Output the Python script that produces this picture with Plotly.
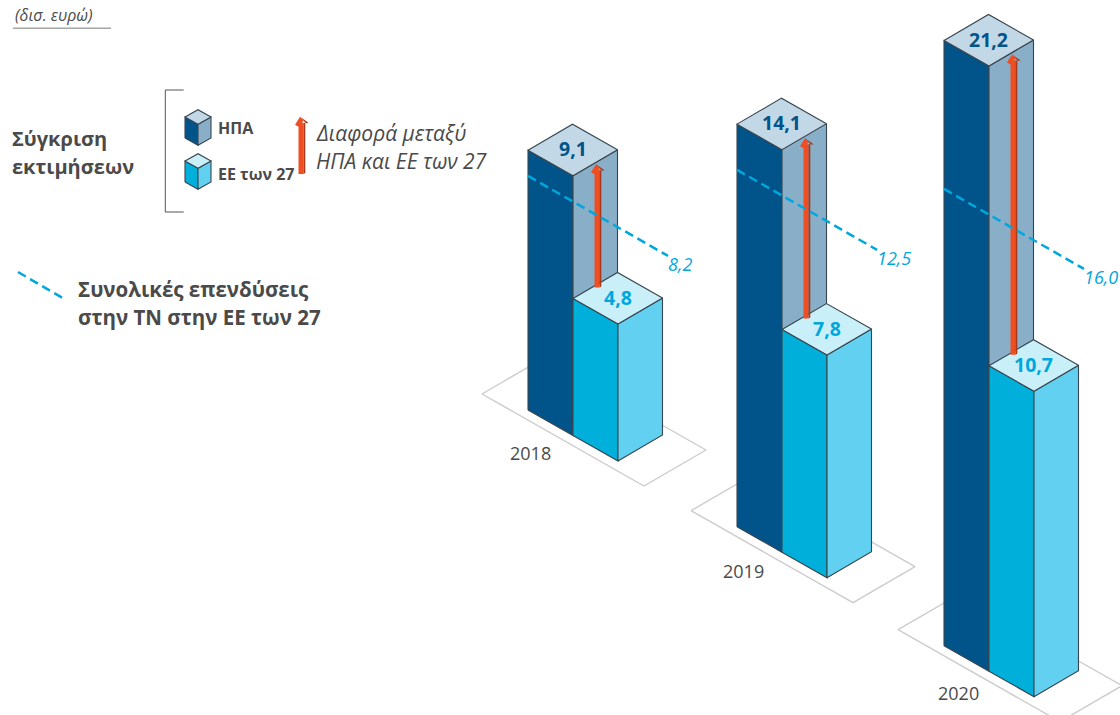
import plotly.graph_objects as go

# ---- data ----
years = ["2018", "2019", "2020"]
us_values = [9.1, 14.1, 21.2]
eu_values = [4.8, 7.8, 10.7]
total_values = [8.2, 12.5, 16.0]
us_labels = ["9,1", "14,1", "21,2"]
eu_labels = ["4,8", "7,8", "10,7"]
total_labels = ["8,2", "12,5", "16,0"]

# ---- projection geometry ----
UNIT = 28.55                 # px per bn EUR
front_x = [618, 827, 1034]   # front-bottom corner of the EU bar
front_y = [461, 577.7, 696.7]
year_xy = [(530, 453), (743, 571), (958, 693)]
W_LEFT = (-45, -25.5)
W_RIGHT = (44.5, -26)

C_US = dict(front="#00548a", side="#88aec8", top="#c3d8e6")
C_EU = dict(front="#00b0da", side="#62d0f0", top="#c9eff9")
EDGE = "#37454f"
CYAN = "#00a7dc"
NAVY = "#00548a"
GREY = "#4a4a4a"
FONT = "Open Sans"

fig = go.Figure()


def poly(xs, ys, fill, line=None, width=1.0):
    fig.add_trace(go.Scatter(
        x=list(xs) + [xs[0]], y=list(ys) + [ys[0]], mode="lines", fill="toself",
        fillcolor=fill, line=dict(color=line or fill, width=width if line else 0),
        hoverinfo="skip", showlegend=False))


def path(xs, ys, color, width=1.0, dash=None):
    fig.add_trace(go.Scatter(
        x=xs, y=ys, mode="lines", line=dict(color=color, width=width, dash=dash),
        hoverinfo="skip", showlegend=False))


def box(fx, fy, h, colors, wl=W_LEFT, wr=W_RIGHT):
    """front-bottom corner (fx, fy), height in px"""
    t = fy - h
    poly([fx + wl[0], fx, fx, fx + wl[0]], [fy + wl[1], fy, t, t + wl[1]], colors["front"], EDGE, 1.1)
    poly([fx, fx + wr[0], fx + wr[0], fx], [fy, fy + wr[1], t + wr[1], t], colors["side"], EDGE, 1.1)
    poly([fx, fx + wr[0], fx + wl[0] + wr[0], fx + wl[0]],
         [t, t + wr[1], t + wl[1] + wr[1], t + wl[1]], colors["top"], EDGE, 1.1)


def arrow(cx, y_tip, y_base):
    poly([cx - 3.5, cx + 1.5, cx + 1.5, cx - 3.5],
         [y_base, y_base, y_tip + 6, y_tip + 6], "#ee4e22")
    poly([cx + 1.5, cx + 3.3, cx + 3.3, cx + 1.5],
         [y_base, y_base - 1, y_tip + 6, y_tip + 6], "#a5391a")
    poly([cx - 2, cx - 7, cx - 3.5, cx + 1.5],
         [y_tip, y_tip + 8, y_tip + 10, y_tip + 4], "#ee4e22")
    poly([cx - 2, cx + 6.5, cx + 4, cx + 1.5],
         [y_tip, y_tip + 6, y_tip + 6.5, y_tip + 4], "#a5391a")


def text(x, y, s, size, color=GREY, bold=False, italic=False, anchor="left"):
    fig.add_annotation(
        x=x, y=y, text=s, showarrow=False, xanchor=anchor, yanchor="middle",
        xref="x", yref="y", borderpad=0,
        font=dict(family=FONT, size=size, color=color,
                  weight=700 if bold else 400, style="italic" if italic else "normal"))


# floor plates
for fx, fy in zip(front_x, front_y):
    ox, oy = fx - 136, fy - 67
    poly([ox, ox + 162, ox + 224, ox + 62], [oy, oy + 92, oy + 56, oy - 36], "#ffffff", "#cccccc", 1.4)

# bars, arrows, totals
for i in range(3):
    fx, fy = front_x[i], front_y[i]
    ux, uy = fx + W_LEFT[0], fy + W_LEFT[1]
    h_us, h_eu = us_values[i] * UNIT, eu_values[i] * UNIT
    box(ux, uy, h_us, C_US)
    box(fx, fy, h_eu, C_EU)
    cx = (ux + fx) / 2 + 2.5
    y_tip = (uy - h_us) + W_RIGHT[1] / 2 + 1.5
    y_base = (fy - h_eu) + W_LEFT[1] + W_RIGHT[1] / 2 + 2
    arrow(cx, y_tip, y_base)
    sx, sy = ux + W_LEFT[0], uy + W_LEFT[1] - total_values[i] * UNIT
    path([sx, sx + 140], [sy, sy + 80], CYAN, 2.5, "9px,5px")
    text(sx + 139, sy + 88, total_labels[i], 18, CYAN, italic=True)
    text(ux + (W_LEFT[0] + W_RIGHT[0]) / 2, uy - h_us + (W_LEFT[1] + W_RIGHT[1]) / 2 - 1, us_labels[i], 19.5, NAVY, True, anchor="center")
    text(fx + (W_LEFT[0] + W_RIGHT[0]) / 2, fy - h_eu + (W_LEFT[1] + W_RIGHT[1]) / 2 - 1, eu_labels[i], 19.5, CYAN, True, anchor="center")
    text(year_xy[i][0], year_xy[i][1], years[i], 18, GREY, anchor="center")

# header
text(14, 15, "(δισ. ευρώ)", 16, GREY, italic=True)
path([13, 111], [28.3, 28.3], "#a6a6a6", 1.5)

# key
text(11, 138, "Σύγκριση", 20, GREY, True)
text(11, 166, "εκτιμήσεων", 20, GREY, True)
path([183.7, 165.3, 165.3, 183.7], [90, 90, 212, 212], "#555555", 1.0)
box(198, 145.3, 21, C_US, (-13, -7.3), (13, -7.3))
box(198, 189.3, 21, C_EU, (-13, -7.3), (13, -7.3))
text(217, 128, "ΗΠΑ", 16, GREY, True)
text(217, 174, "ΕΕ των 27", 16, GREY, True)
arrow(302, 116.7, 174)
text(315, 133, "Διαφορά μεταξύ", 21, GREY, italic=True)
text(315, 161, "ΗΠΑ και ΕΕ των 27", 21, GREY, italic=True)
path([18, 66], [272, 300], CYAN, 2.5, "9px,5px")
text(77, 288.5, "Συνολικές επενδύσεις", 20.5, GREY, True)
text(77, 316.5, "στην ΤΝ στην ΕΕ των 27", 20.5, GREY, True)

axis = dict(visible=False, fixedrange=True)
fig.update_layout(
    width=1120, height=715, margin=dict(l=0, r=0, t=0, b=0),
    paper_bgcolor="#ffffff", plot_bgcolor="#ffffff", showlegend=False,
    xaxis=dict(range=[0, 1120], **axis),
    yaxis=dict(range=[715, 0], **axis),
    font=dict(family=FONT),
)
fig.write_html("out.html", post_script="document.body.style.margin='0';document.body.style.overflow='hidden';",
               config=dict(displayModeBar=False))
